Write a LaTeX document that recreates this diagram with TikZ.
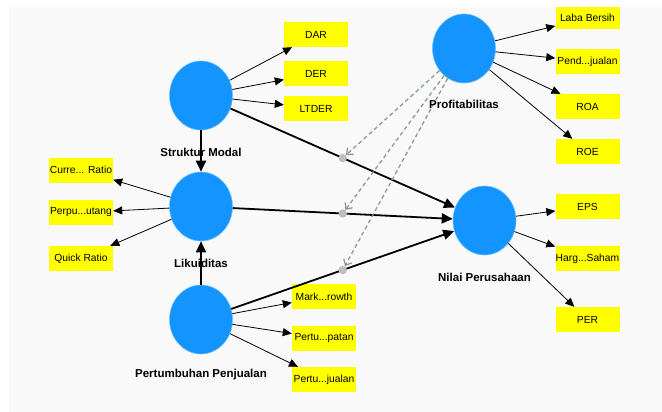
\documentclass[tikz,border=0pt]{standalone}
\usepackage{fontspec}
\setmainfont{Liberation Sans}
\usetikzlibrary{arrows.meta,shapes.geometric,calc}

\definecolor{latentblue}{RGB}{20,148,255}
\definecolor{indyellow}{RGB}{255,255,0}
\definecolor{modgray}{RGB}{140,156,140}
\definecolor{dotgray}{RGB}{190,190,190}
\definecolor{panelgray}{RGB}{249,249,249}

\begin{document}
\begin{tikzpicture}[x=1pt,y=-1pt,
    latent/.style={ellipse,fill=latentblue,draw=latentblue!60!white,line width=0.6pt,
        minimum width=63pt,minimum height=69pt,inner sep=0pt},
    ind/.style={rectangle,fill=indyellow,minimum width=64pt,minimum height=25pt,
        inner sep=0pt,font=\fontsize{10.3}{12}\selectfont},
    lbl/.style={font=\bfseries\fontsize{11.5}{13}\selectfont},
    thinarr/.style={-{Triangle[length=9pt,width=8pt]},line width=0.8pt},
    thickarr/.style={-{Triangle[length=11pt,width=10pt]},line width=1.8pt},
    modarr/.style={-{Straight Barb[length=5pt,width=9pt]},draw=modgray,
        dash pattern=on 4pt off 3pt,line width=1.3pt},
    moddot/.style={circle,fill=dotgray,minimum size=8.5pt,inner sep=0pt}]

    % Background panel
    \useasboundingbox (0,0) rectangle (662,412);
    \fill[white] (0,0) rectangle (662,412);
    \fill[panelgray] (9,7) rectangle (662,412);

    % Latent variables
    \node[latent] (sm) at (201,95.5) {};
    \node[latent] (lik) at (201,206.5) {};
    \node[latent] (pp) at (201,319.5) {};
    \node[latent] (prof) at (464,48.5) {};
    \node[latent] (np) at (484.5,220.5) {};

    % Indicators
    \node[ind] (dar) at (316,34.5) {DAR};
    \node[ind] (der) at (316,73.5) {DER};
    \node[ind] (ltder) at (316,108.5) {LTDER};
    \node[ind] (cr) at (81,170) {Curre... Ratio};
    \node[ind] (pu) at (81,212.5) {Perpu...utang};
    \node[ind] (qr) at (81,258.5) {Quick Ratio};
    \node[ind] (mg) at (324,296.5) {Mark...rowth};
    \node[ind] (pa) at (324,338.5) {Pertu...patan};
    \node[ind] (pj) at (324,379.5) {Pertu...jualan};
    \node[ind,minimum height=22pt] (lb) at (587.5,18) {Laba Bersih};
    \node[ind] (pdj) at (587.5,61.5) {Pend...jualan};
    \node[ind] (roa) at (587.5,106.5) {ROA};
    \node[ind] (roe) at (587.5,151.5) {ROE};
    \node[ind] (eps) at (587.5,206.5) {EPS};
    \node[ind] (hs) at (587.5,258.5) {Harg...Saham};
    \node[ind] (per) at (587.5,319.5) {PER};

    % Loadings
    \foreach \x in {dar,der,ltder} \draw[thinarr] (sm) -- (\x);
    \foreach \x in {cr,pu,qr} \draw[thinarr] (lik) -- (\x);
    \foreach \x in {mg,pa,pj} \draw[thinarr] (pp) -- (\x);
    \foreach \x in {lb,pdj,roa,roe} \draw[thinarr] (prof) -- (\x);
    \foreach \x in {eps,hs,per} \draw[thinarr] (np) -- (\x);

    % Structural paths
    \draw[thickarr] (sm) -- (lik);
    \draw[thickarr] (pp) -- (lik);
    \draw[thickarr] (sm) -- (np);
    \draw[thickarr] (lik) -- (np);
    \draw[thickarr] (pp) -- (np);

    % Moderating effects
    \node[moddot] (m1) at ($(sm)!.5!(np)$) {};
    \node[moddot] (m2) at ($(lik)!.5!(np)$) {};
    \node[moddot] (m3) at ($(pp)!.5!(np)$) {};
    \foreach \x in {m1,m2,m3} \draw[modarr] (prof) -- (\x);

    % Labels
    \node[lbl] (sm-lbl) at (201,152) {Struktur Modal};
    \node[lbl] (lik-lbl) at (201,263) {Likuiditas};
    \node[lbl] (pp-lbl) at (201,375) {Pertumbuhan Penjualan};
    \node[lbl] (prof-lbl) at (464,104) {Profitabilitas};
    \node[lbl] (np-lbl) at (484.5,277) {Nilai Perusahaan};
\end{tikzpicture}
\end{document}
